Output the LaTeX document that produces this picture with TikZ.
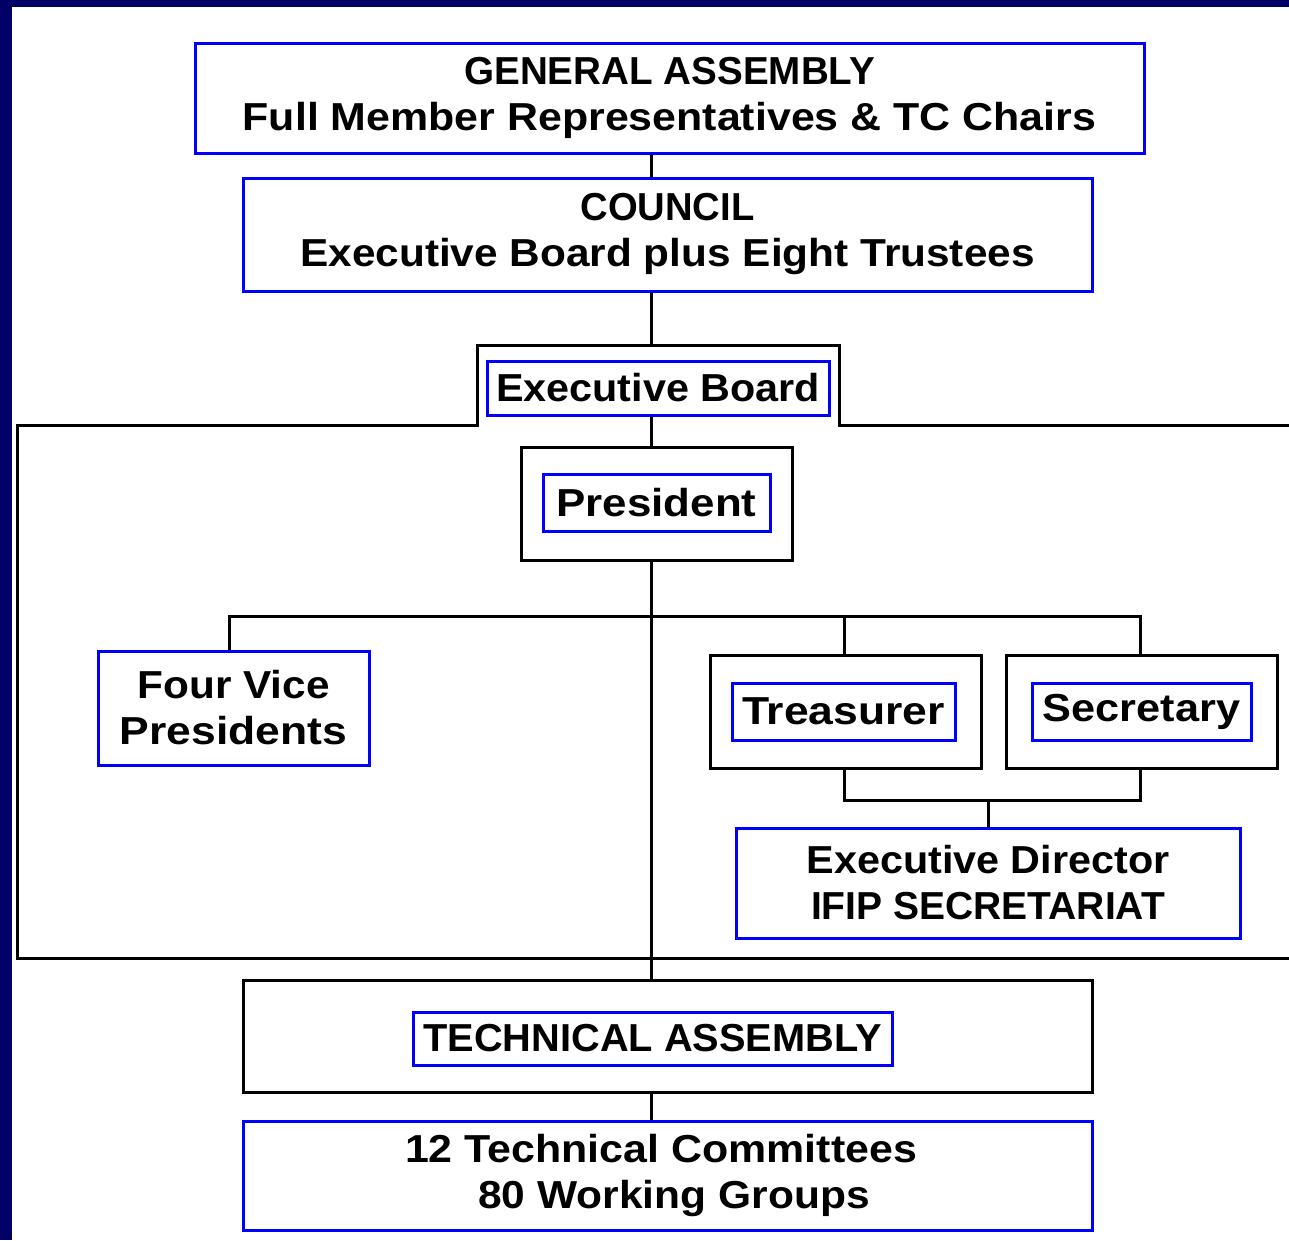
\documentclass[tikz,border=0pt]{standalone}
\usepackage{fontspec}
\setmainfont{Liberation Sans}
\definecolor{navy}{RGB}{0,0,102}
\definecolor{bblue}{RGB}{0,0,255}
\newcommand{\sx}[2]{\scalebox{#1}[1]{#2}}
\begin{document}
\begin{tikzpicture}[x=1pt,y=-1pt,
  every node/.style={font=\fontsize{39}{46}\selectfont\bfseries, inner sep=0pt, align=center},
  bluebox/.style={draw=bblue, line width=3pt, rectangle},
  blackbox/.style={draw=black, line width=3pt, rectangle},
  conn/.style={draw=black, line width=3pt}]
\useasboundingbox (0,0) rectangle (1289,1240);
\fill[white] (0,0) rectangle (1289,1240);
\fill[navy] (0,0) rectangle (12,1240);
\fill[navy] (0,0) rectangle (1289,7);
\coordinate (spine) at (651,0);
% frame
\draw[conn] (1292,425) -- (839,425) -- (839,345) -- (477,345) -- (477,425) -- (17,425) -- (17,958) -- (1292,958);
\coordinate (ebtop) at (651,345);
% nodes
\node[bluebox, minimum width=949, minimum height=110] (ga) at (669.5,98) {\sx{0.99}{GENERAL ASSEMBLY}\\\sx{1.10}{Full Member Representatives \& TC Chairs}};
\node[bluebox, minimum width=849, minimum height=113] (council) at (667.5,234.5) {\sx{0.98}{COUNCIL}\\\sx{1.086}{Executive Board plus Eight Trustees}};
\node[bluebox, minimum width=342, minimum height=54] (eb) at (658,388) {\sx{1.06}{Executive Board}};
\node[blackbox, minimum width=271, minimum height=113] (preso) at (656.5,503.5) {};
\node[bluebox, minimum width=227, minimum height=57] (presi) at (656.5,502.5) {\sx{1.125}{President}};
\node[bluebox, minimum width=271, minimum height=114] (vp) at (233.5,708) {\sx{1.086}{Four Vice}\\\sx{1.14}{Presidents}};
\node[blackbox, minimum width=271, minimum height=113] (treo) at (845.5,711.5) {};
\node[bluebox, minimum width=223, minimum height=57] (trei) at (843.5,711.5) {\sx{1.14}{Treasurer}};
\node[blackbox, minimum width=271, minimum height=113] (seco) at (1141.5,711.5) {};
\node[bluebox, minimum width=219, minimum height=57] (seci) at (1141.5,711.5) {\sx{1.11}{Secretary}};
\node[bluebox, minimum width=504, minimum height=110] (ed) at (988,883) {\sx{1.06}{Executive Director}\\\sx{1.0}{IFIP SECRETARIAT}};
\node[blackbox, minimum width=849, minimum height=112] (tao) at (667.5,1036) {};
\node[bluebox, minimum width=479, minimum height=53] (tai) at (652.5,1038.5) {\sx{1.02}{TECHNICAL ASSEMBLY}};
\node[bluebox, minimum width=849, minimum height=109] (tc) at (667.5,1175.5) {\hspace*{-13pt}\sx{1.10}{12 Technical Committees}\\\hspace*{13pt}\sx{1.09}{80 Working Groups}};
% connectors
\draw[conn] (ga.south -| spine) -- (council.north -| spine);
\draw[conn] (council.south -| spine) -- (ebtop);
\draw[conn] (eb.south -| spine) -- (preso.north -| spine);
\draw[conn] (preso.south -| spine) -- (tao.north -| spine);
\draw[conn] (tao.south -| spine) -- (tc.north -| spine);
\coordinate (hl) at (0,616);
\draw[conn] (vp.north -| 229,0) -- (hl -| 229,0) -- (hl -| 1140,0) -- (seco.north -| 1140,0);
\draw[conn] (hl -| 844,0) -- (treo.north -| 844,0);
\coordinate (hb) at (0,800);
\draw[conn] (treo.south -| 844,0) -- (hb -| 844,0) -- (hb -| 1140,0) -- (seco.south -| 1140,0);
\draw[conn] (hb -| ed.north) -- (ed.north);
\end{tikzpicture}
\end{document}
